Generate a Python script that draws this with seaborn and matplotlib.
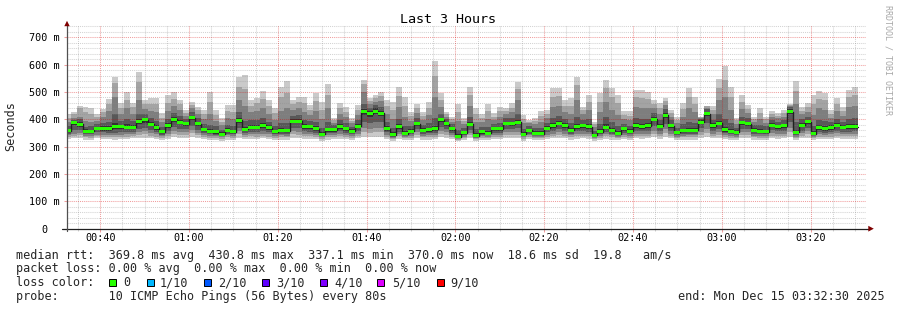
import numpy as np
import matplotlib
matplotlib.use("Agg")
import matplotlib.pyplot as plt
import seaborn as sns
from matplotlib.lines import Line2D
from matplotlib.patches import Polygon, Rectangle
from matplotlib.transforms import ScaledTranslation

# ---------------- data (ms), one value per 80 s RRD step, oldest first ----------------
median = [358,387,382,357,357,367,366,366,372,372,371,371,391,398,382,370,355,377,400,390,383,406,383,361,356,354,346,360,
          354,396,363,371,371,378,370,355,360,358,393,393,373,372,365,345,362,361,373,365,356,374,427,421,430,423,366,
          343,372,348,357,383,360,362,365,398,383,365,337,351,382,340,354,349,365,365,385,384,389,346,360,348,348,368,
          377,385,377,360,373,376,372,341,355,371,360,348,365,357,376,373,376,401,374,415,376,352,358,360,360,389,420,
          377,385,361,356,352,387,383,360,356,355,379,373,376,427,352,378,391,348,370,365,370,378,371,372,373]

# sorted pings: p1 = fastest ping ... p10 = slowest ping
p1 = [328,330,332,326,325,330,328,327,326,328,329,330,332,333,330,328,324,329,334,333,332,336,330,327,325,324,322,326,
      325,333,327,329,328,330,328,325,326,326,333,333,329,329,327,322,326,327,329,328,325,330,336,335,337,336,327,
      322,329,323,325,331,326,326,327,334,331,328,320,324,331,320,325,323,328,328,331,331,332,322,327,323,323,328,
      330,331,330,326,329,330,329,320,325,329,326,323,328,325,330,329,330,334,329,336,330,324,326,326,326,332,335,
      330,331,327,325,324,332,331,326,325,325,330,329,330,336,324,330,333,323,328,327,328,330,329,329,329]
p2 = [336,340,342,334,333,338,336,335,335,337,337,338,342,345,340,337,332,339,346,344,342,350,341,335,333,332,329,334,
      333,345,336,338,337,340,337,333,334,334,345,344,339,338,336,329,335,335,339,336,333,340,352,350,354,352,336,
      328,338,330,333,342,334,335,336,346,342,336,326,331,341,327,332,330,336,336,342,342,344,329,335,330,330,337,
      340,342,340,334,339,340,338,327,333,338,334,330,336,333,340,339,340,347,339,350,340,331,334,334,334,344,350,
      340,342,335,333,331,343,342,334,333,333,340,339,340,352,331,340,345,330,337,336,337,340,338,338,339]
p3 = [342,348,350,340,339,344,344,343,342,344,345,346,352,356,350,345,338,347,358,354,352,362,350,342,339,338,334,341,
      339,356,343,346,345,348,345,339,341,340,356,355,347,346,343,334,342,342,347,343,339,348,368,366,370,368,344,
      333,346,336,339,352,340,342,343,358,352,343,330,337,350,332,338,336,343,343,352,352,354,334,341,336,336,344,
      348,352,348,341,347,348,346,332,339,346,341,336,343,339,348,347,348,359,347,364,348,337,340,341,341,354,364,
      348,352,342,339,337,353,352,340,339,339,349,347,348,368,337,349,356,336,345,343,345,349,346,346,347]
p4 = [348,360,362,346,345,352,352,350,350,352,354,354,366,370,362,354,344,358,372,366,363,376,362,350,345,344,338,348,
      345,370,351,355,354,358,354,345,348,347,370,369,356,355,351,338,349,349,356,351,345,357,390,388,392,390,352,
      337,355,341,346,364,347,349,351,372,364,351,333,342,362,335,344,341,351,351,364,364,367,339,348,341,341,352,
      358,364,358,348,356,357,355,335,345,355,348,341,351,346,357,356,357,374,356,382,357,343,347,348,348,367,385,
      358,364,349,346,343,366,364,347,346,345,360,356,357,390,343,358,370,341,354,351,354,358,355,355,356]
p5 = [352,378,372,350,351,360,358,358,364,364,363,364,382,388,374,362,349,370,390,382,376,396,374,356,350,348,341,354,
      349,386,357,364,363,370,362,349,354,352,385,385,366,365,358,341,355,355,366,358,350,367,415,410,420,412,359,
      340,365,344,351,376,353,355,357,390,376,358,335,346,374,337,348,345,358,358,378,377,382,342,354,344,344,360,
      370,378,370,354,366,369,365,337,350,364,354,344,358,351,369,366,369,393,367,405,369,347,352,354,354,382,412,
      370,378,355,350,347,380,376,353,350,349,372,366,369,418,347,371,384,344,362,358,362,371,364,365,366]
p6 = [365,392,390,364,362,372,374,376,385,380,382,380,400,405,390,380,362,386,408,398,390,414,392,370,364,362,352,368,
      362,404,372,380,380,388,378,362,368,366,400,401,382,380,374,354,370,368,382,372,363,382,436,430,440,432,375,
      352,382,357,364,392,368,370,376,406,390,372,346,358,390,350,360,357,372,373,392,392,398,354,366,356,357,375,
      386,394,386,368,384,384,382,348,364,382,368,357,372,364,385,382,385,410,382,424,384,359,366,368,368,396,428,
      386,394,372,364,360,395,391,367,364,362,386,380,384,436,362,386,398,358,378,374,378,386,380,382,383]
p7 = [375,398,400,372,374,382,386,392,420,395,400,394,420,418,405,395,372,400,422,412,400,426,404,382,380,374,362,380,
      376,425,395,396,398,405,392,376,388,385,414,416,398,394,392,370,390,378,396,386,372,396,455,442,452,446,390,
      368,400,374,376,405,380,386,405,420,400,382,360,368,408,365,372,372,384,388,404,406,420,366,376,368,370,388,
      405,412,400,385,410,398,400,358,382,408,390,375,384,377,404,402,403,422,396,436,396,370,382,390,386,402,436,
      398,418,400,386,370,410,404,378,378,374,398,392,396,444,390,400,410,376,398,395,390,402,392,402,405]
p8 = [390,406,410,395,392,395,410,430,480,420,440,420,470,436,430,425,390,430,450,435,412,440,420,400,420,395,378,405,
      400,470,450,425,430,440,420,398,430,440,435,440,428,415,430,400,440,388,420,408,385,416,500,455,465,466,420,
      400,445,410,395,422,398,415,480,445,410,392,395,382,450,392,390,400,398,410,418,425,470,385,385,382,392,405,
      445,450,425,418,470,418,435,372,425,465,435,415,400,396,445,440,440,440,420,452,410,385,410,440,425,406,442,
      418,470,480,435,384,438,422,390,400,388,410,404,410,449,455,418,428,415,440,435,406,430,412,445,450]
p9 = [405,418,440,425,420,410,425,455,532,440,470,445,535,455,455,455,405,460,475,455,422,452,435,418,462,415,392,430,
      428,520,510,450,458,475,448,422,480,495,455,462,458,435,468,435,490,396,442,428,395,435,530,466,478,485,448,
      435,485,450,412,440,412,442,560,470,420,402,428,394,490,420,405,430,410,430,430,443,510,402,392,394,412,420,
      482,485,450,450,525,434,465,383,465,515,480,458,416,414,480,478,475,456,442,466,422,398,436,482,456,408,447,
      435,515,545,480,396,465,438,401,422,400,420,414,422,453,505,432,444,455,475,470,420,455,430,480,488]
p10 = [420,428,450,444,440,420,437,474,553,459,501,459,574,471,477,479,422,489,501,471,434,465,446,434,501,434,404,452,
       452,556,562,471,479,504,471,443,520,540,471,483,483,452,498,465,530,404,461,446,404,452,544,477,489,501,471,
       465,520,483,428,455,426,465,615,495,428,410,456,404,520,443,420,455,422,446,440,459,538,416,398,404,430,434,
       513,516,471,477,553,446,489,391,498,544,513,489,430,430,507,507,501,471,459,479,434,410,459,513,483,410,450,
       449,548,595,517,404,489,451,410,440,410,430,422,434,456,541,446,459,488,503,496,434,477,446,507,519]

x_labels = ["00:40", "01:00", "01:20", "01:40", "02:00", "02:20", "02:40", "03:00", "03:20"]
y_labels = ["0", "100 m", "200 m", "300 m", "400 m", "500 m", "600 m", "700 m"]
loss_labels = ["0", "1/10", "2/10", "3/10", "4/10", "5/10", "9/10"]
loss_colors = ["#26ff00", "#00b8ff", "#0059ff", "#5e00ff", "#7e00ff", "#dd00ff", "#ff0000"]

for name, arr in [("p1", p1), ("p2", p2), ("p3", p3), ("p4", p4), ("p5", p5), ("p6", p6),
                  ("p7", p7), ("p8", p8), ("p9", p9), ("p10", p10)]:
    assert len(arr) == len(median), (name, len(arr), len(median))

# ---------------- figure ----------------
sns.set_theme(style="white")
plt.rcParams["font.family"] = ["DejaVu Sans Mono", "DejaVu Sans"]

W, H = 897, 310
fig = plt.figure(figsize=(W / 100, H / 100), dpi=100)
fig.patch.set_facecolor("white")

def fx(px):
    return px / W

def fy(py):
    return 1 - py / H

AX_L, AX_R, AX_T, AX_B = 67, 866, 25, 228.7
ax = fig.add_axes([fx(AX_L), fy(AX_B), (AX_R - AX_L) / W, (AX_B - AX_T) / H])
ax.set_facecolor("white")
TSPAN = 10800  # 3 hours in seconds, starting 00:32:30
YMAX = 745
ax.set_xlim(0, TSPAN)
ax.set_ylim(0, YMAX)
for s in ax.spines.values():
    s.set_visible(False)

# step geometry (RRD step = 80 s)
n = len(median)
k = np.arange(n)
t_end = 50 + 80 * k
t_start = np.maximum(t_end - 80, 0)
xs = np.append(t_start, t_end[-1])

def ext(a):
    a = np.asarray(a, float)
    return np.append(a, a[-1])

# smoke
bands = [(p1, p10, "#cacaca"), (p2, p9, "#a4a4a4"), (p3, p8, "#7e7e7e"),
         (p4, p7, "#585858"), (p5, p6, "#323232")]
for lo, hi, c in bands:
    ax.fill_between(xs, ext(lo), ext(hi), step="post", color=c, lw=0, zorder=2,
                    antialiased=False)

# grid
grid_c = (0.55, 0.55, 0.55, 0.38)
mgrid_c = (0.85, 0.0, 0.0, 0.38)
dots = (0, (1, 1))
minor_h = [v for v in range(20, YMAX, 20) if v % 100 != 0]
major_h = list(range(100, 701, 100))
major_v = [450 + 1200 * i for i in range(len(x_labels))]
minor_v = [v for v in range(150, TSPAN, 300) if v not in major_v]
ax.hlines(minor_h, 0, TSPAN, colors=[grid_c], linestyles=[dots], lw=0.75, zorder=3)
ax.vlines(minor_v, 0, YMAX, colors=[grid_c], linestyles=[dots], lw=0.75, zorder=3)
ax.hlines(major_h, 0, TSPAN, colors=[mgrid_c], linestyles=[dots], lw=0.75, zorder=3)
ax.vlines(major_v, 0, YMAX, colors=[mgrid_c], linestyles=[dots], lw=0.75, zorder=3)

# median: black step line + loss-coloured band
sns.lineplot(x=xs, y=ext(median), drawstyle="steps-post", color="#202020", lw=1.0,
             ax=ax, zorder=4, estimator=None, sort=False)
band_h = 11
ax.bar(t_start, band_h, bottom=np.asarray(median, float) - band_h / 2,
       width=t_end - t_start, align="edge", color=loss_colors[0], lw=0, zorder=5)

# ticks
ax.set_xticks(major_v)
ax.set_xticklabels(x_labels, fontsize=7.3)
ax.set_xticks(minor_v, minor=True)
ax.set_yticks(range(0, 701, 100))
ax.set_yticklabels(y_labels, fontsize=7.3)
ax.tick_params(axis="x", which="major", length=2.2, width=0.75, color=mgrid_c, pad=0.8,
               bottom=True, labelcolor="black")
ax.tick_params(axis="x", which="minor", length=1.5, width=0.75, color=grid_c, bottom=True)
ax.tick_params(axis="y", which="major", length=2.2, width=0.75, color=mgrid_c, pad=3.0,
               left=True, labelcolor="black")
for lbl in ax.get_yticklabels():
    if lbl.get_text() == "0":
        lbl.set_transform(lbl.get_transform() + ScaledTranslation(-12.2 / 100, 0, fig.dpi_scale_trans))

# axes lines and arrows
axis_c = "#202020"
arrow_c = "#7f0000"
fig.add_artist(Line2D([fx(62), fx(869)], [fy(AX_B), fy(AX_B)], transform=fig.transFigure,
                      color=axis_c, lw=0.9, zorder=6))
fig.add_artist(Line2D([fx(AX_L), fx(AX_L)], [fy(231), fy(24)], transform=fig.transFigure,
                      color="#505050", lw=0.9, zorder=6))
fig.add_artist(Polygon([[fx(64.3), fy(26.2)], [fx(69.7), fy(26.2)], [fx(67), fy(20.8)]],
                       closed=True, transform=fig.transFigure, color=arrow_c, lw=0, zorder=7))
fig.add_artist(Polygon([[fx(868.3), fy(225.8)], [fx(868.3), fy(231.6)], [fx(873.8), fy(AX_B)]],
                       closed=True, transform=fig.transFigure, color=arrow_c, lw=0, zorder=7))

# texts
fig.text(fx(448), fy(19.5), "Last 3 Hours", ha="center", va="center", fontsize=9.6, color="black")
fig.text(fx(10.5), fy(126), "Seconds", ha="center", va="center", rotation=90, fontsize=8.5)
fig.text(fx(887.5), fy(60), "RRDTOOL / TOBI OETIKER", ha="center", va="center", rotation=270,
         fontsize=6.0, color="#a8a8a8")

LEG = 8.5
fig.text(fx(16), fy(255), "median rtt:  369.8 ms avg  430.8 ms max  337.1 ms min  370.0 ms now  18.6 ms sd  19.8   am/s",
         ha="left", va="center", fontsize=LEG)
fig.text(fx(16), fy(268.5), "packet loss: 0.00 % avg  0.00 % max  0.00 % min  0.00 % now",
         ha="left", va="center", fontsize=LEG)
fig.text(fx(16), fy(282.5), "loss color:", ha="left", va="center", fontsize=LEG)
box_x = [109, 146.7, 203.5, 261.7, 320, 377, 437]
text_x = [123, 160, 218, 276, 334, 392, 450]
for bx, tx, lab, col in zip(box_x, text_x, loss_labels, loss_colors):
    fig.add_artist(Rectangle((fx(bx), fy(286)), 7 / W, 7 / H, transform=fig.transFigure,
                             facecolor=col, edgecolor="black", lw=0.7))
    fig.text(fx(tx), fy(282.5), lab, ha="left", va="center", fontsize=LEG)
fig.text(fx(16), fy(296.5), "probe:       10 ICMP Echo Pings (56 Bytes) every 80s",
         ha="left", va="center", fontsize=LEG)
fig.text(fx(678), fy(296.5), "end: Mon Dec 15 03:32:30 2025", ha="left", va="center", fontsize=LEG)

fig.savefig("out.png", dpi=100, facecolor="white")
